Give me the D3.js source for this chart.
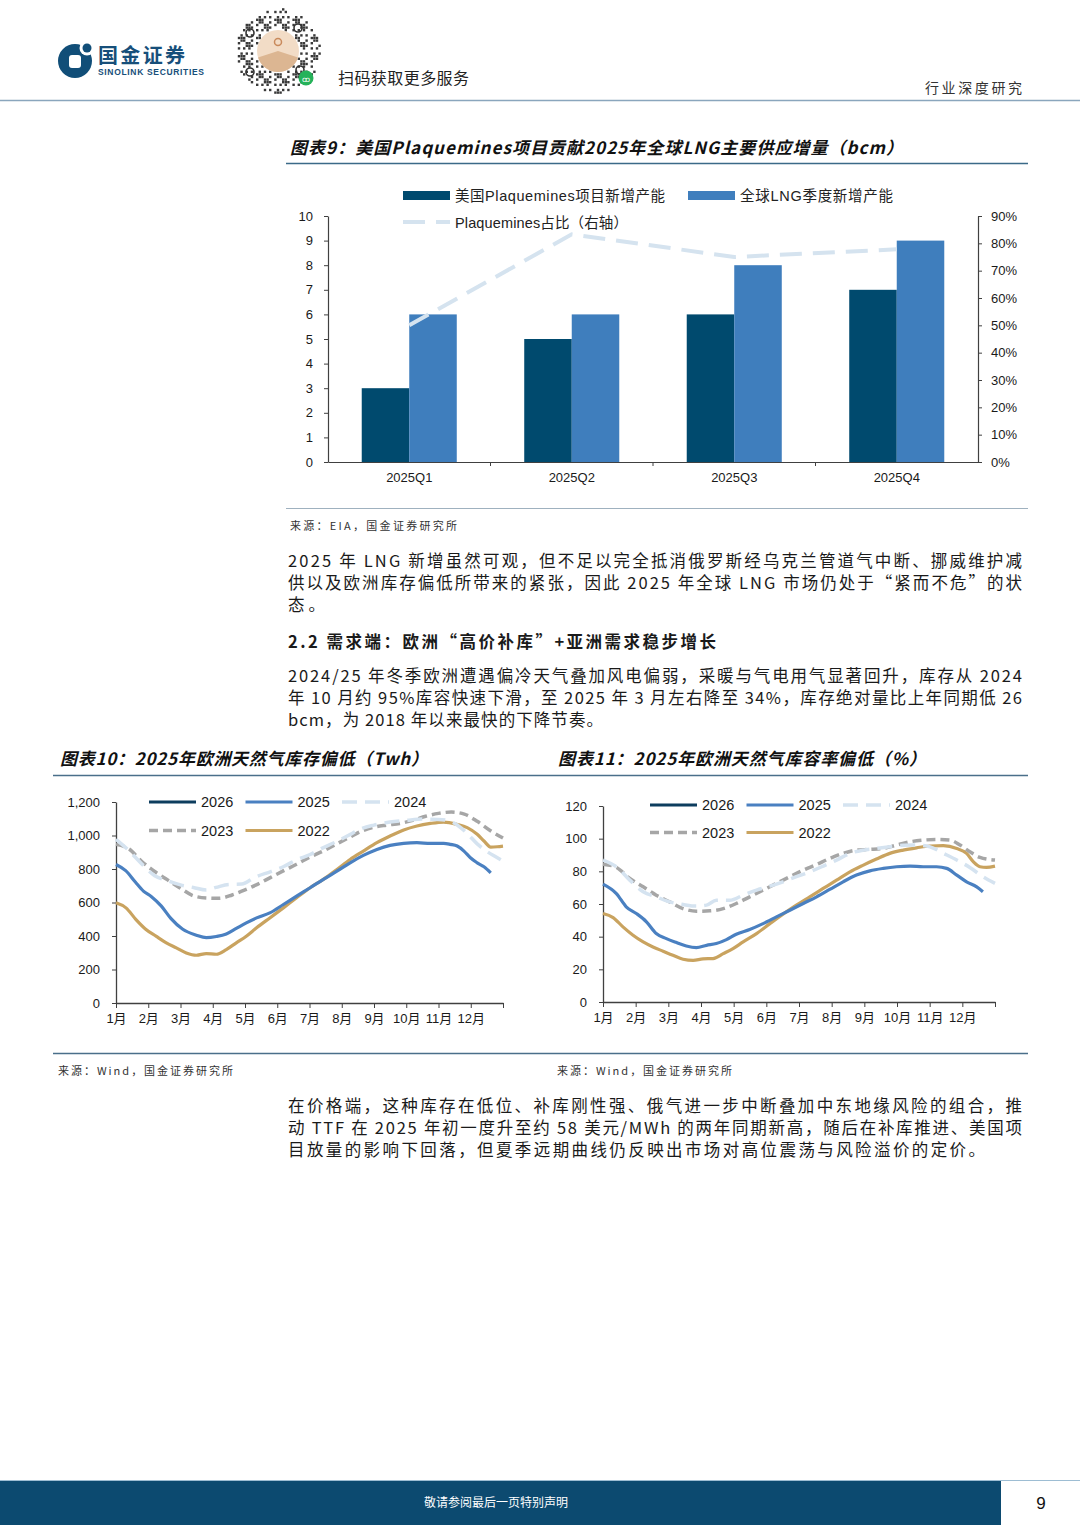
<!DOCTYPE html>
<html><head><meta charset="utf-8">
<script src="https://cdn.jsdelivr.net/npm/d3@7"></script>
<style>body{margin:0;background:#fff} svg{display:block}</style>
</head><body><svg id="page" width="1080" height="1527"></svg>
<script>
// ---------- Chart 9 data ----------
const quarters = ["2025Q1","2025Q2","2025Q3","2025Q4"];
const plaqueminesAdd = [3,5,6,7];
const globalLngAdd = [6,6,8,9];
const plaqueminesShare = [50,83.3,75,77.8];
const leftTicks9 = [0,1,2,3,4,5,6,7,8,9,10];
const rightTicks9 = [0,10,20,30,40,50,60,70,80,90];

// ---------- Chart 10/11 data ----------
const monthLabels = ["1月","2月","3月","4月","5月","6月","7月","8月","9月","10月","11月","12月"];
const twhTicks = [0,200,400,600,800,1000,1200];
const pctTicks = [0,20,40,60,80,100,120];

const twh2026 = [];
const twh2025 = [[0,827],[0.3,790],[0.6,722],[0.85,668],[1.1,635],[1.4,580],[1.7,505],[2.07,440],[2.49,405],[2.80,390],[3.11,397],[3.42,412],[3.73,445],[4.04,478],[4.36,508],[4.77,538],[5.19,588],[5.60,638],[6.02,688],[6.43,738],[6.85,787],[7.26,837],[7.67,881],[8.09,917],[8.50,941],[8.92,953],[9.33,957],[9.75,953],[10.16,953],[10.37,947],[10.58,937],[10.79,907],[10.99,867],[11.20,837],[11.41,813],[11.62,777]];
const twh2024 = [[0,977],[0.4,910],[0.8,830],[1.2,760],[1.6,730],[2.0,705],[2.4,690],[2.8,675],[3.1,690],[3.5,708],[3.9,710],[4.3,750],[4.8,785],[5.2,815],[5.6,855],[6.0,885],[6.4,925],[6.8,960],[7.2,1000],[7.6,1040],[8.0,1062],[8.5,1080],[9.0,1090],[9.5,1098],[10.0,1096],[10.3,1088],[10.6,1060],[10.9,1010],[11.2,950],[11.5,905],[11.8,870],[12,847]];
const twh2023 = [[0,947],[0.4,920],[0.8,845],[1.2,785],[1.6,735],[2.0,685],[2.4,640],[2.8,627],[3.2,625],[3.6,645],[4.0,675],[4.4,710],[4.8,750],[5.2,790],[5.6,828],[6.0,870],[6.4,905],[6.8,945],[7.2,985],[7.6,1025],[8.0,1050],[8.4,1062],[8.8,1072],[9.2,1090],[9.6,1115],[10.0,1132],[10.4,1140],[10.8,1128],[11.2,1085],[11.6,1030],[12,985]];
const twh2022 = [[0,598],[0.31,568],[0.62,498],[0.93,439],[1.24,399],[1.56,359],[1.87,329],[2.18,299],[2.49,285],[2.80,295],[3.11,291],[3.42,319],[3.73,359],[4.04,399],[4.36,449],[4.77,508],[5.19,568],[5.60,628],[6.02,688],[6.43,738],[6.85,797],[7.26,857],[7.67,907],[8.09,957],[8.50,997],[8.92,1033],[9.33,1057],[9.75,1072],[10.16,1080],[10.58,1066],[10.89,1047],[11.20,1007],[11.41,967],[11.62,931],[11.82,933],[12,937]];

const pct2026 = [];
const pct2025 = [[0,72.2],[0.41,66.4],[0.71,58.3],[1.02,54.2],[1.33,49.1],[1.63,41.9],[1.94,38.8],[2.25,36.4],[2.55,34.3],[2.86,33.3],[3.17,34.7],[3.47,35.8],[3.78,38.2],[4.08,41.5],[4.49,44.4],[4.90,48.0],[5.31,52.1],[5.72,56.2],[6.13,60.3],[6.54,64.4],[6.94,68.9],[7.35,73.6],[7.76,77.7],[8.17,80.3],[8.58,81.8],[8.99,82.8],[9.40,83.2],[9.80,82.8],[10.21,82.8],[10.52,81.8],[10.83,77.7],[11.13,73.6],[11.44,70.5],[11.63,67.5]];
const pct2024 = [[0,86.9],[0.41,82.8],[0.82,74.6],[1.23,67.5],[1.63,64.4],[2.04,61.3],[2.45,59.7],[2.86,58.7],[3.17,59.3],[3.47,62.3],[3.88,62.3],[4.29,65.4],[4.70,68.5],[5.11,70.9],[5.51,73.6],[5.92,76.7],[6.33,79.7],[6.74,83.2],[7.15,86.9],[7.56,91.0],[7.97,93.0],[8.37,94.0],[8.78,95.0],[9.19,95.9],[9.60,96.1],[10.01,95.0],[10.42,91.0],[10.83,86.9],[11.23,82.4],[11.63,76.7],[12,72.6]];
const pct2023 = [[0,84.4],[0.41,82.4],[0.82,75.6],[1.23,70.5],[1.63,65.4],[2.04,61.3],[2.45,57.2],[2.86,55.6],[3.27,55.8],[3.68,57.2],[4.08,60.3],[4.49,64.4],[4.90,68.5],[5.31,72.6],[5.72,76.7],[6.13,80.7],[6.54,84.2],[6.94,87.9],[7.35,91.0],[7.76,93.0],[8.17,93.4],[8.58,94.0],[8.99,96.1],[9.40,98.1],[9.80,99.1],[10.21,99.5],[10.62,99.1],[10.93,96.1],[11.23,92.0],[11.54,88.5],[12,86.9]];
const pct2022 = [[0,54.2],[0.31,51.7],[0.61,46.0],[0.92,40.9],[1.23,36.8],[1.53,33.7],[1.84,31.1],[2.14,28.6],[2.45,26.2],[2.76,25.5],[3.06,26.4],[3.37,26.6],[3.68,29.6],[3.98,32.7],[4.29,36.8],[4.70,41.9],[5.11,48.0],[5.51,53.8],[5.92,59.3],[6.33,64.4],[6.74,69.5],[7.15,74.6],[7.56,79.7],[7.97,83.8],[8.37,87.5],[8.78,91.0],[9.19,93.0],[9.60,94.4],[10.01,95.5],[10.42,95.7],[10.83,94.0],[11.13,91.0],[11.34,85.8],[11.54,82.8],[11.74,82.4],[12,83.2]];

// ---------- styles ----------
const CJK = "'Noto Sans CJK SC','Noto Sans',sans-serif";
const LAT = "'Liberation Sans',Arial,'Noto Sans CJK SC',sans-serif";
const NAVY = "#004a6e", MID = "#3f7ebd";
const seriesStyle = {
  "2026": {color:"#0d3d5e", dash:null, w:3.2},
  "2025": {color:"#4a80c1", dash:null, w:3.2},
  "2024": {color:"#d5e3f0", dash:"15,8", w:3.5},
  "2023": {color:"#a6a6a6", dash:"9,5", w:3.5},
  "2022": {color:"#c9a35f", dash:null, w:3.2}
};

const svg = d3.select("#page");
svg.append("rect").attr("width",1080).attr("height",1527).attr("fill","#fff");

function txt(g, x, y, s, o={}) {
  const t = g.append("text").attr("x",x).attr("y",y).text(s)
    .attr("font-family", o.ff || CJK).attr("font-size", o.fs || 16)
    .attr("fill", o.fill || "#1a1a1a");
  if (o.fw) t.attr("font-weight", o.fw);
  if (o.italic) t.attr("font-style","italic");
  if (o.anchor) t.attr("text-anchor", o.anchor);
  if (o.len) t.attr("textLength", o.len).attr("lengthAdjust","spacing");
  return t;
}
function hline(x1,x2,y,color,w){ svg.append("line").attr("x1",x1).attr("x2",x2).attr("y1",y).attr("y2",y).attr("stroke",color).attr("stroke-width",w); }

// ---------- header ----------
const hd = svg.append("g");
hd.append("circle").attr("cx",75).attr("cy",61).attr("r",17).attr("fill","#114e78");
hd.append("circle").attr("cx",87).attr("cy",48).attr("r",7.5).attr("fill","#fff");
hd.append("circle").attr("cx",87).attr("cy",48).attr("r",4.5).attr("fill","#114e78");
hd.append("rect").attr("x",69).attr("y",55).attr("width",12).attr("height",13).attr("rx",3).attr("fill","#fff");
txt(hd, 98, 63, "国金证券", {fs:20, fw:700, fill:"#174f7a", len:87});
txt(hd, 98, 74.5, "SINOLINK SECURITIES", {ff:LAT, fs:8.5, fw:700, fill:"#174f7a", len:106});
// QR-like badge (decorative)
const qr = hd.append("g");
const qcx=278, qcy=51, qr0=42;
for (let i=-16;i<=16;i++) for (let j=-16;j<=16;j++){
  const px=qcx+i*2.6, py=qcy+j*2.6, d=Math.hypot(i*2.6,j*2.6);
  if (d>qr0 || d<22) continue;
  if (((i*7+j*13+i*j*3+17)%7+7)%7 < 3) qr.append("rect").attr("x",px-1.2).attr("y",py-1.2).attr("width",2.4).attr("height",2.4).attr("fill","#3a3a3a");
}
[[250,33],[250,72],[298,28],[300,70]].forEach(p=>{qr.append("circle").attr("cx",p[0]).attr("cy",p[1]).attr("r",4).attr("fill","none").attr("stroke","#333").attr("stroke-width",1.6);});
qr.append("circle").attr("cx",qcx).attr("cy",qcy).attr("r",21).attr("fill","#f2dcc6");
qr.append("path").attr("d",d3.arc()({innerRadius:0,outerRadius:21,startAngle:Math.PI*0.6,endAngle:Math.PI*1.4})).attr("transform",`translate(${qcx},${qcy})`).attr("fill","#dcb692");
qr.append("circle").attr("cx",qcx).attr("cy",qcy-9).attr("r",3.5).attr("fill","none").attr("stroke","#c98a5c").attr("stroke-width",1.5);
qr.append("circle").attr("cx",306).attr("cy",78).attr("r",7.5).attr("fill","#25b25a");
txt(hd, 306, 82, "ꝏ", {ff:LAT, fs:8, fill:"#fff", anchor:"middle"});
txt(hd, 338, 84, "扫码获取更多服务", {fs:16, fill:"#222", len:131});
txt(hd, 925, 92.5, "行业深度研究", {fs:14, fill:"#333", len:97});
hline(0,1080,100.5,"#8aa6bd",1.6);

// ---------- chart 9 ----------
txt(svg, 290, 154, "图表9：美国Plaquemines项目贡献2025年全球LNG主要供应增量（bcm）", {fs:17, fw:700, italic:true, fill:"#111", len:613});
hline(286,1028,163.5,"#3b6a88",1.5);

const c9 = svg.append("g");
const x9 = d3.scaleBand().domain(quarters).range([328,978]).padding(0);
const sub9 = d3.scaleBand().domain([0,1]).range([0,x9.bandwidth()]).paddingInner(0).paddingOuter(0.71);
const yL = d3.scaleLinear().domain([0,10]).range([462,216]);
const yR = d3.scaleLinear().domain([0,90]).range([462,216]);

const bars = [plaqueminesAdd, globalLngAdd];
const barColors = [NAVY, MID];
bars.forEach((arr,k)=>{
  c9.selectAll(null).data(quarters).enter().append("rect")
    .attr("x", q=>x9(q)+sub9(k)).attr("width", sub9.bandwidth())
    .attr("y", (q,i)=>yL(arr[i])).attr("height",(q,i)=>yL(0)-yL(arr[i]))
    .attr("fill", barColors[k]);
});
const axL = c9.append("g").attr("transform","translate(328,0)")
  .call(d3.axisLeft(yL).tickValues(leftTicks9).tickSize(4).tickPadding(11).tickSizeOuter(0));
const axR = c9.append("g").attr("transform","translate(978,0)")
  .call(d3.axisRight(yR).tickValues(rightTicks9).tickSize(4).tickPadding(9).tickFormat(d=>d+"%").tickSizeOuter(0));
const axB = c9.append("g").attr("transform","translate(0,462)")
  .call(d3.axisBottom(x9).tickSize(0).tickPadding(11));
[axL,axR,axB].forEach(a=>{
  a.selectAll("path.domain").attr("stroke","#404040").attr("stroke-width",1.2);
  a.selectAll(".tick line").attr("stroke","#404040");
  a.selectAll("text").attr("font-family",LAT).attr("font-size",13).attr("fill","#1a1a1a");
});
// boundary ticks
c9.selectAll(null).data(quarters.slice(1)).enter().append("line")
  .attr("x1",q=>x9(q)).attr("x2",q=>x9(q)).attr("y1",462).attr("y2",466).attr("stroke","#404040");
// share line
c9.append("path").datum(plaqueminesShare)
  .attr("d", d3.line().x((d,i)=>x9(quarters[i])+x9.bandwidth()/2).y(d=>yR(d)))
  .attr("fill","none").attr("stroke","#d5e3ef").attr("stroke-width",4).attr("stroke-dasharray","22,11");
// legend 9
const lg9 = svg.append("g");
lg9.append("rect").attr("x",403).attr("y",191).attr("width",47).attr("height",9).attr("fill",NAVY);
txt(lg9, 455, 200.5, "美国Plaquemines项目新增产能", {ff:LAT, fs:14.5, fill:"#222", len:210});
lg9.append("rect").attr("x",688).attr("y",191).attr("width",47).attr("height",9).attr("fill",MID);
txt(lg9, 740, 200.5, "全球LNG季度新增产能", {ff:LAT, fs:14.5, fill:"#222", len:153});
lg9.append("line").attr("x1",403).attr("x2",450).attr("y1",222).attr("y2",222).attr("stroke","#d5e3ef").attr("stroke-width",4).attr("stroke-dasharray","22,11");
txt(lg9, 455, 227.5, "Plaquemines占比（右轴）", {ff:LAT, fs:14.5, fill:"#222", len:173});

hline(286,1028,508.5,"#9fb1bf",1);
txt(svg, 290, 530, "来源：EIA，国金证券研究所", {fs:11, fill:"#333", len:167});

// ---------- paragraphs ----------
const paraW = 734;
txt(svg, 288, 567, "2025 年 LNG 新增虽然可观，但不足以完全抵消俄罗斯经乌克兰管道气中断、挪威维护减", {fs:16.5, len:paraW});
txt(svg, 288, 589, "供以及欧洲库存偏低所带来的紧张，因此 2025 年全球 LNG 市场仍处于“紧而不危”的状", {fs:16.5, len:paraW});
txt(svg, 288, 611, "态。", {fs:16.5, len:37});
txt(svg, 288, 648, "2.2 需求端：欧洲“高价补库”+亚洲需求稳步增长", {fs:16.5, fw:700, len:428});
txt(svg, 288, 682, "2024/25 年冬季欧洲遭遇偏冷天气叠加风电偏弱，采暖与气电用气显著回升，库存从 2024", {fs:16.5, len:paraW});
txt(svg, 288, 704, "年 10 月约 95%库容快速下滑，至 2025 年 3 月左右降至 34%，库存绝对量比上年同期低 26", {fs:16.5, len:paraW});
txt(svg, 288, 726, "bcm，为 2018 年以来最快的下降节奏。", {fs:16.5, len:315});

// ---------- charts 10 & 11 titles ----------
txt(svg, 60, 765, "图表10：2025年欧洲天然气库存偏低（Twh）", {fs:17, fw:700, italic:true, fill:"#111", len:368});
txt(svg, 558, 765, "图表11：2025年欧洲天然气库容率偏低（%）", {fs:17, fw:700, italic:true, fill:"#111", len:368});
hline(53,1028,775.5,"#4a6f8a",1.5);

function lineChart(cfg){
  const g = svg.append("g");
  const x = d3.scaleLinear().domain([0,12]).range([cfg.x0,cfg.x1]);
  const y = d3.scaleLinear().domain([0,cfg.ymax]).range([cfg.y0,cfg.y1]);
  const ax = g.append("g").attr("transform",`translate(${cfg.x0},0)`)
    .call(d3.axisLeft(y).tickValues(cfg.ticks).tickSize(4).tickPadding(cfg.pad).tickSizeOuter(0).tickFormat(cfg.fmt));
  const bx = g.append("g").attr("transform",`translate(0,${cfg.y0})`)
    .call(d3.axisBottom(x).tickValues(d3.range(0,13)).tickSize(5).tickPadding(6).tickSizeOuter(0).tickFormat(i=>monthLabels[i]||""));
  [ax,bx].forEach(a=>{
    a.selectAll("path.domain").attr("stroke","#404040").attr("stroke-width",1.3);
    a.selectAll(".tick line").attr("stroke","#404040");
    a.selectAll("text").attr("font-family",LAT).attr("font-size",13).attr("fill","#1a1a1a");
  });
  const line = d3.line().x(d=>x(d[0])).y(d=>y(d[1])).curve(d3.curveMonotoneX);
  ["2022","2023","2024","2025","2026"].forEach(n=>{
    const data = cfg.series[n]; if (!data.length) return;
    const st = seriesStyle[n];
    g.append("path").datum(data).attr("d",line).attr("fill","none")
      .attr("stroke",st.color).attr("stroke-width",st.w)
      .attr("stroke-dasharray",st.dash).attr("stroke-linejoin","round");
  });
  // legend
  const L = cfg.leg;
  const items = [["2026",0,0],["2025",1,0],["2024",2,0],["2023",0,1],["2022",1,1]];
  items.forEach(([n,c,r])=>{
    const st = seriesStyle[n];
    const lx = L.x + c*L.dx, ly = L.y + r*L.dy;
    g.append("line").attr("x1",lx).attr("x2",lx+47).attr("y1",ly).attr("y2",ly)
      .attr("stroke",st.color).attr("stroke-width",st.w).attr("stroke-dasharray",st.dash);
    txt(g, lx+52, ly+5, n, {ff:LAT, fs:14.5, fill:"#1a1a1a"});
  });
}
lineChart({x0:116,x1:503,y0:1003,y1:802,ymax:1200,ticks:twhTicks,pad:12,fmt:d3.format(","),
  series:{"2026":twh2026,"2025":twh2025,"2024":twh2024,"2023":twh2023,"2022":twh2022},
  leg:{x:149,y:802,dx:96.5,dy:28.5}});
lineChart({x0:603,x1:995,y0:1002,y1:806,ymax:120,ticks:pctTicks,pad:12,fmt:d3.format("d"),
  series:{"2026":pct2026,"2025":pct2025,"2024":pct2024,"2023":pct2023,"2022":pct2022},
  leg:{x:650,y:805,dx:96.5,dy:27.5}});

hline(53,1028,1053.5,"#4a6f8a",1.5);
txt(svg, 58, 1075, "来源：Wind，国金证券研究所", {fs:11, fill:"#333", len:175});
txt(svg, 557, 1075, "来源：Wind，国金证券研究所", {fs:11, fill:"#333", len:175});

txt(svg, 288, 1112, "在价格端，这种库存在低位、补库刚性强、俄气进一步中断叠加中东地缘风险的组合，推", {fs:16.5, len:paraW});
txt(svg, 288, 1134, "动 TTF 在 2025 年初一度升至约 58 美元/MWh 的两年同期新高，随后在补库推进、美国项", {fs:16.5, len:paraW});
txt(svg, 288, 1156, "目放量的影响下回落，但夏季远期曲线仍反映出市场对高位震荡与风险溢价的定价。", {fs:16.5, len:697});

// ---------- footer ----------
hline(0,1080,1480.5,"#9dbdd3",1.2);
svg.append("rect").attr("x",0).attr("y",1481).attr("width",1001).attr("height",44).attr("fill","#0c4a70");
txt(svg, 496, 1507, "敬请参阅最后一页特别声明", {fs:12, fill:"#fff", anchor:"middle"});
txt(svg, 1041, 1509, "9", {ff:LAT, fs:17, fill:"#111", anchor:"middle"});
</script></body></html>
